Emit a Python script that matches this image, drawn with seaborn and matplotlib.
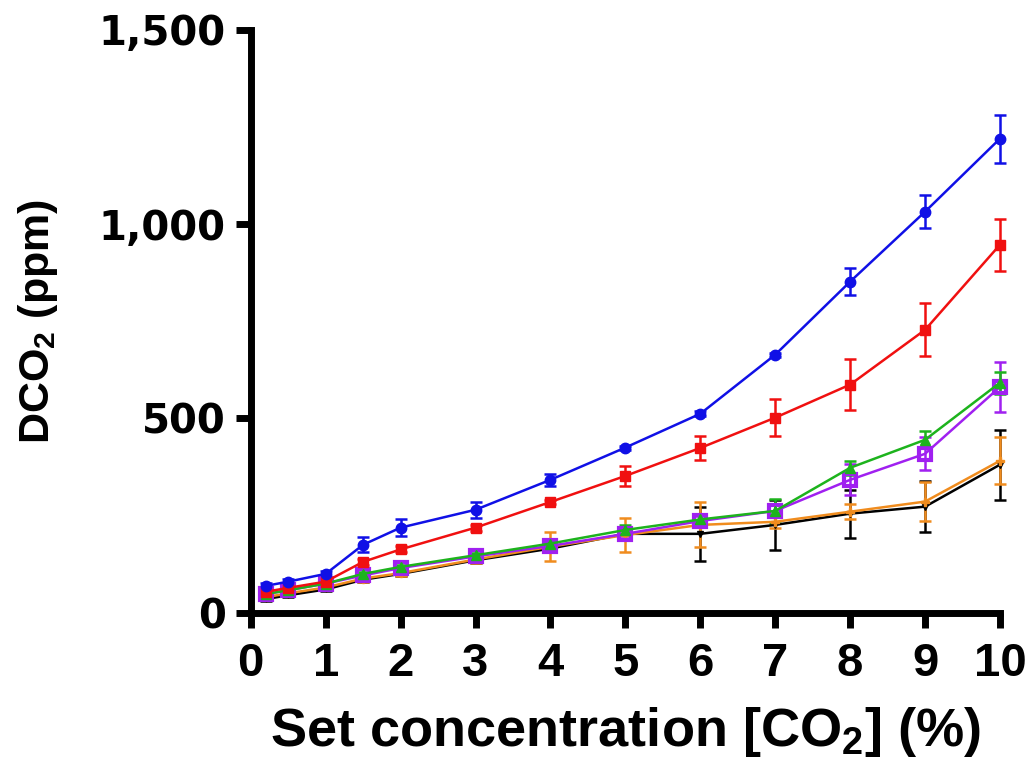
import matplotlib
matplotlib.use('Agg')
import matplotlib.pyplot as plt
import numpy as np
import pandas as pd
import seaborn as sns

# Set CO2 concentration (%)
conc = [0.2, 0.5, 1, 1.5, 2, 3, 4, 5, 6, 7, 8, 9, 10]

# DCO2 readings (ppm) and their error bars, one array per sensor series
blue_mean = [69, 80, 100, 175, 219, 265, 342, 425, 512, 664, 852, 1032, 1220]
blue_err = [8, 6, 8, 20, 22, 20, 15, 5, 6, 5, 35, 42, 62]
red_mean = [54, 64, 80, 131, 163, 219, 285, 352, 424, 502, 587, 728, 947]
red_err = [6, 6, 6, 8, 8, 8, 6, 25, 32, 48, 65, 68, 67]
green_mean = [48, 58, 75, 100, 118, 148, 178, 213, 240, 262, 373, 445, 592]
green_err = [5, 5, 5, 6, 6, 6, 10, 12, 15, 30, 18, 22, 28]
purple_mean = [48, 58, 75, 96, 115, 145, 172, 203, 236, 262, 342, 409, 581]
purple_err = [5, 5, 5, 6, 6, 6, 10, 10, 12, 15, 40, 43, 64]
orange_mean = [40, 50, 65, 88, 102, 137, 170, 200, 226, 234, 260, 286, 391]
orange_err = [5, 5, 5, 8, 8, 8, 38, 45, 58, 15, 20, 50, 60]
black_mean = [35, 45, 60, 85, 100, 135, 165, 203, 203, 226, 255, 273, 381]
black_err = [5, 5, 5, 6, 6, 6, 8, 15, 70, 64, 62, 65, 90]

# name, means, errors, colour, marker, size, hollow
series = [
    ('black', black_mean, black_err, '#000000', 'v', 5, False),
    ('orange', orange_mean, orange_err, '#f08c1e', 'P', 6, False),
    ('purple', purple_mean, purple_err, '#a020f0', 's', 9, True),
    ('green', green_mean, green_err, '#1db31d', '^', 7, False),
    ('red', red_mean, red_err, '#f01010', 's', 7.5, False),
    ('blue', blue_mean, blue_err, '#1010e6', 'o', 7.5, False),
]

sns.set_style('ticks')
plt.rcParams['font.family'] = ['Liberation Sans', 'DejaVu Sans']
plt.rcParams['mathtext.default'] = 'bf'
plt.rcParams['mathtext.fontset'] = 'custom'
plt.rcParams['mathtext.bf'] = 'Liberation Sans:bold'
plt.rcParams['text.color'] = 'black'
plt.rcParams['axes.labelcolor'] = 'black'

fig = plt.figure(figsize=(10.32, 7.64), dpi=100)
ax = fig.add_axes([0.243, 0.198, 0.726, 0.763])

for name, mean, err, color, marker, ms, hollow in series:
    df = pd.DataFrame({'conc': conc, 'dco2': mean})
    ax.errorbar(conc, mean, yerr=err, fmt='none', ecolor=color, elinewidth=1.8,
                capsize=4.5, capthick=1.8, clip_on=False, zorder=2)
    sns.lineplot(data=df, x='conc', y='dco2', ax=ax, color=color, linewidth=1.8,
                 marker=marker, markersize=ms, markeredgecolor=color,
                 markerfacecolor=('none' if hollow else color),
                 markeredgewidth=3 if hollow else 1,
                 clip_on=False, zorder=3)

ax.set_xlim(0, 10)
ax.set_ylim(0, 1500)
ax.set_xticks(range(0, 11))
ax.set_yticks([0, 500, 1000, 1500])
ax.set_yticklabels(['0', '500', '1,000', '1,500'])
ax.tick_params(axis='both', width=5, length=11, colors='black')
ax.tick_params(axis='x', labelsize=34, pad=10)
ax.tick_params(axis='y', labelsize=29, pad=7)
for lab in ax.get_xticklabels():
    lab.set_fontweight('bold')
for lab in ax.get_yticklabels():
    lab.set_fontweight('bold')
    lab.set_family('DejaVu Sans')
for side in ['left', 'bottom']:
    ax.spines[side].set_linewidth(5)
    ax.spines[side].set_color('black')
sns.despine(ax=ax)

ax.set_xlabel('Set concentration [CO$_2$] (%)', fontsize=39, fontweight='bold', labelpad=14)
ax.set_ylabel('DCO$_2$ (ppm)', fontsize=31, fontweight='bold', labelpad=28)

fig.savefig('out.png', dpi=100)
